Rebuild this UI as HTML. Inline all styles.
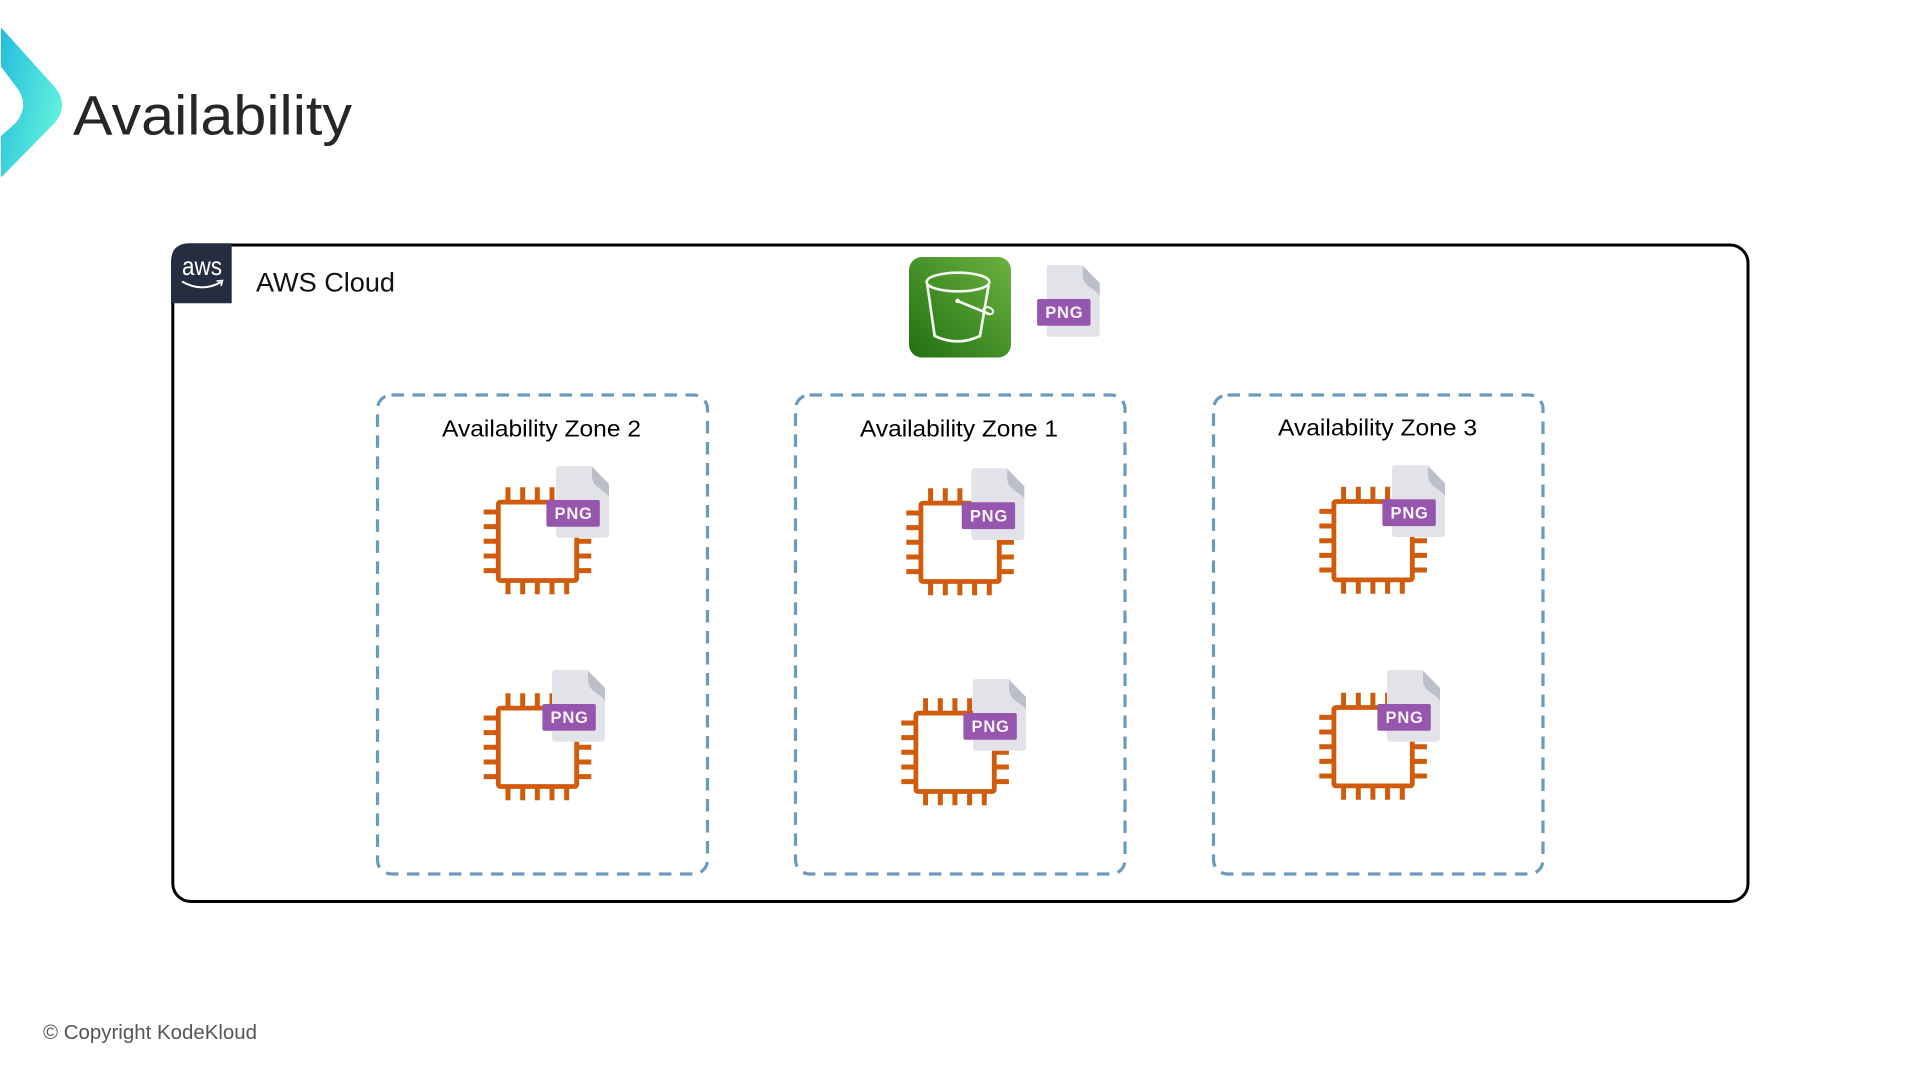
<!DOCTYPE html>
<html lang="en">
<head>
<meta charset="utf-8">
<title>Availability</title>
<style>
html,body{margin:0;padding:0;background:#fff;width:1920px;height:1080px;overflow:hidden}
svg{display:block}
text{font-family:"Liberation Sans",sans-serif}
</style>
</head>
<body>
<svg xmlns="http://www.w3.org/2000/svg" width="1920" height="1080" viewBox="0 0 1920 1080">
<defs>
<linearGradient id="logo" x1="0" y1="0.1" x2="1" y2="0.6">
<stop offset="0" stop-color="#26bfdc"/><stop offset="1" stop-color="#62f2dc"/>
</linearGradient>
<linearGradient id="s3" x1="0" y1="1" x2="1" y2="0">
<stop offset="0" stop-color="#217012"/><stop offset="1" stop-color="#6cb23f"/>
</linearGradient>
<g id="chip" fill="none" stroke="#d05c0b">
<path stroke-width="5" d="M0 24.7H13M0 39.3H13M0 54H13M0 68.7H13M0 83.3H13M95 24.7H107.6M95 39.3H107.6M95 54H107.6M95 68.7H107.6M95 83.3H107.6M24.3 0V13M39 0V13M53.6 0V13M68.3 0V13M83 0V13M24.3 94V107M39 94V107M53.6 94V107M68.3 94V107M83 94V107"/>
<rect x="14.6" y="14.8" width="78.4" height="78.4" rx="2" stroke-width="4.8" fill="#fff"/>
</g>
<g id="file">
<path d="M3 0H36L53 18V68.7a3 3 0 0 1-3 3H3a3 3 0 0 1-3-3V3a3 3 0 0 1 3-3Z" fill="#e1e3e8"/>
<path d="M36 1L53 18V31C50 24 36 22 36 10Z" fill="#bcbfca"/>
<rect x="-9.6" y="34" width="53.4" height="26.8" rx="2" fill="#9756ad"/>
<text x="17.6" y="53.2" text-anchor="middle" font-size="16.5" font-weight="700" fill="#f8f2fa" letter-spacing="0.8">PNG</text>
</g>
</defs>

<!-- logo -->
<g transform="scale(0.3333)">
<path d="M3 82L165 262Q208 315 165 368L3 533V408L48 368Q90 315 50 262L3 200Z" fill="url(#logo)"/>
</g>
<text x="73" y="134.5" font-size="56" fill="#262626" textLength="279" lengthAdjust="spacingAndGlyphs">Availability</text>

<!-- cloud -->
<rect x="172.8" y="245" width="1575.2" height="656.5" rx="18" fill="#fff" stroke="#000" stroke-width="3"/>
<path d="M190 243.3H231.7V303.3H171V262Q171 243.3 190 243.3Z" fill="#262d40"/>
<text x="182" y="275" font-size="26" fill="#fff" textLength="40" lengthAdjust="spacingAndGlyphs">aws</text>
<path d="M182 281.5Q202 293 221 282" fill="none" stroke="#fff" stroke-width="2"/>
<path d="M216.5 281L222.5 280.5L221 286" fill="none" stroke="#fff" stroke-width="1.6"/>
<text x="256" y="291.7" font-size="27" fill="#111" textLength="139" lengthAdjust="spacingAndGlyphs">AWS Cloud</text>

<!-- S3 -->
<rect x="909" y="257" width="102" height="100.5" rx="13" fill="url(#s3)"/>
<g transform="translate(880 240) scale(0.3333)" fill="none" stroke="#f3f8ef" stroke-width="8">
<ellipse cx="234" cy="126" rx="94" ry="28"/>
<path d="M142 135L164 288Q233 320 300 288L326 135"/>
<path d="M233 183L330 223"/>
<ellipse cx="325" cy="212" rx="15" ry="10" transform="rotate(20 325 212)" stroke-width="6"/>
<circle cx="233" cy="183" r="7" fill="#f3f8ef" stroke="none"/>
</g>
<use href="#file" x="1046.7" y="265"/>

<!-- zones -->
<g fill="none" stroke="#6a9bbf" stroke-width="3.2" stroke-dasharray="12.5 8.5">
<rect x="377.5" y="395" width="330" height="479" rx="14"/>
<rect x="795.5" y="395" width="329.5" height="479" rx="14"/>
<rect x="1213.5" y="395" width="329.5" height="479" rx="14"/>
</g>
<g font-size="23.5" fill="#000">
<text x="442" y="436.7" textLength="199" lengthAdjust="spacingAndGlyphs">Availability Zone 2</text>
<text x="860" y="436.5" textLength="198" lengthAdjust="spacingAndGlyphs">Availability Zone 1</text>
<text x="1278" y="435.3" textLength="199" lengthAdjust="spacingAndGlyphs">Availability Zone 3</text>
</g>

<!-- instances -->
<use href="#chip" x="483.7" y="487.3"/><use href="#file" x="556" y="466"/>
<use href="#chip" x="483.7" y="693.3"/><use href="#file" x="552" y="670"/>
<use href="#chip" x="906.3" y="488.3"/><use href="#file" x="971.3" y="468.3"/>
<use href="#chip" x="901.3" y="698.3"/><use href="#file" x="973" y="679"/>
<use href="#chip" x="1319.3" y="486.7"/><use href="#file" x="1392" y="465.3"/>
<use href="#chip" x="1319.3" y="692.7"/><use href="#file" x="1387" y="670"/>

<!-- footer -->
<text x="43" y="1039" font-size="20" fill="#555" textLength="214" lengthAdjust="spacingAndGlyphs">© Copyright KodeKloud</text>
</svg>
</body>
</html>
